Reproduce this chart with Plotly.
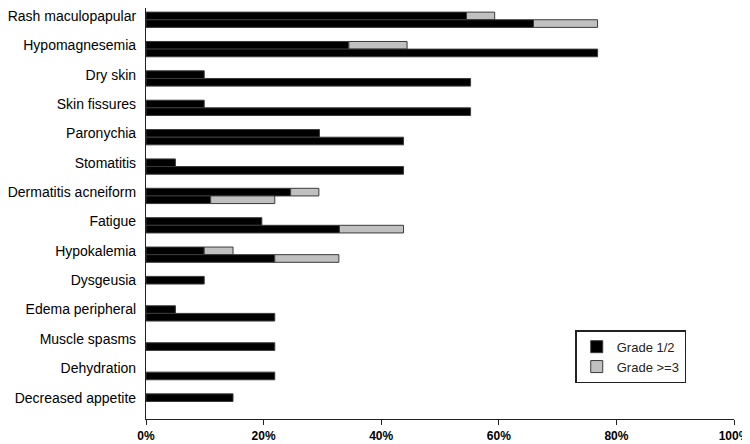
import plotly.graph_objects as go

categories = ["Rash maculopapular", "Hypomagnesemia", "Dry skin", "Skin fissures",
              "Paronychia", "Stomatitis", "Dermatitis acneiform", "Fatigue",
              "Hypokalemia", "Dysgeusia", "Edema peripheral", "Muscle spasms",
              "Dehydration", "Decreased appetite"]

# upper bar of each pair
a_grade12 = [54.5, 34.5, 9.9, 9.9, 29.5, 5.0, 24.6, 19.7, 9.9, 9.9, 5.0, 0, 0, 14.8]
a_grade3 = [4.8, 9.9, 0, 0, 0, 0, 4.8, 0, 4.9, 0, 0, 0, 0, 0]
# lower bar of each pair
b_grade12 = [65.9, 76.8, 55.2, 55.2, 43.8, 43.8, 11.0, 32.9, 21.9, 0, 21.9, 21.9, 21.9, 0]
b_grade3 = [10.9, 0, 0, 0, 0, 0, 10.9, 10.9, 10.9, 0, 0, 0, 0, 0]

x_ticks = [0, 20, 40, 60, 80, 100]
x_ticklabels = ["0%", "20%", "40%", "60%", "80%", "100%"]

W = 0.26
BLACK = "#000000"
GRAY = "#c0c0c0"
EDGE = "#3a3a3a"
FONT = "Liberation Sans, Arial, sans-serif"

fig = go.Figure()


def add(x, base, color, name, off, show):
    xs = [v if v else None for v in x]
    fig.add_trace(go.Bar(
        y=categories, x=xs, base=base, orientation="h", width=W, offset=off,
        marker=dict(color=color, line=dict(color=EDGE, width=1)),
        name=name, legendgroup=name, showlegend=show))


add(a_grade12, None, BLACK, "Grade 1/2", -W / 2, True)
add(a_grade3, a_grade12, GRAY, "Grade >=3", -W / 2, True)
add(b_grade12, None, BLACK, "Grade 1/2", W / 2, False)
add(b_grade3, b_grade12, GRAY, "Grade >=3", W / 2, False)

fig.update_layout(
    width=742, height=436,
    margin=dict(l=132, r=11, t=0, b=25),
    barmode="overlay",
    plot_bgcolor="white", paper_bgcolor="white",
    font=dict(family=FONT, color="#000000"),
    legend=dict(x=0.73, y=0.216, xanchor="left", yanchor="top",
                bordercolor="#222222", borderwidth=1.5, bgcolor="white",
                font=dict(size=13, color="#222222"), traceorder="normal",
                itemwidth=30, tracegroupgap=0),
    showlegend=True,
)

fig.update_xaxes(
    range=[0, 100], tickvals=x_ticks, ticktext=x_ticklabels,
    showgrid=False, zeroline=False,
    showline=True, linecolor="#222222", linewidth=1.2,
    ticks="outside", ticklen=5, tickcolor="#222222",
    ticklabeloverflow="allow",
    tickfont=dict(size=12, family=FONT, weight="bold"),
)

fig.update_yaxes(
    categoryorder="array", categoryarray=categories,
    range=[13.726, -0.27],
    showgrid=False, zeroline=False,
    showline=True, linecolor="#222222", linewidth=1.2,
    ticks="", ticklabelstandoff=6,
    tickfont=dict(size=14, family=FONT),
)

fig.write_html("out.html")
